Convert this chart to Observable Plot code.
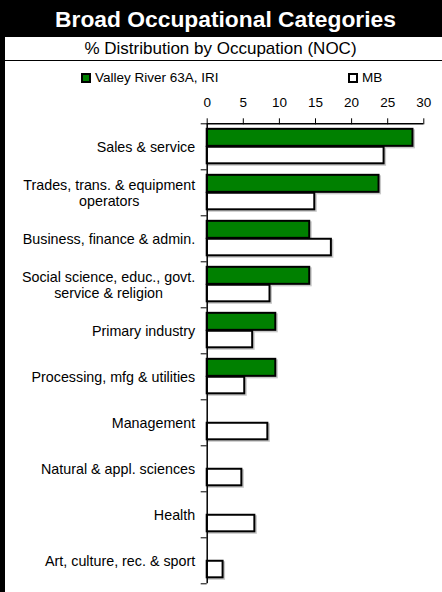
<!DOCTYPE html>
<html>
<head>
<meta charset="utf-8">
<script src="https://cdn.jsdelivr.net/npm/d3@7"></script>
<script src="https://cdn.jsdelivr.net/npm/@observablehq/plot@0.6"></script>
<style>
  html, body { margin: 0; padding: 0; background: #fff; }
  #chart { position: relative; width: 442px; height: 592px; box-sizing: border-box; border-left: 5px solid #000; font-family: "Liberation Sans", Arial, sans-serif; color: #000; overflow: hidden; }
  .title { height: 37px; background: #000; color: #fff; font-weight: bold; font-size: 22.8px; line-height: 38px; text-align: center; padding-left: 4px; white-space: nowrap; }
  .subtitle { height: 23px; line-height: 23px; font-size: 17px; text-align: center; border-bottom: 1px solid #000; padding-right: 6px; white-space: nowrap; }
  .legend { position: relative; height: 29px; font-size: 13.5px; }
  .legend .item { position: absolute; top: 9px; display: flex; align-items: center; white-space: nowrap; }
  .legend .sw { width: 6px; height: 6px; border: 2px solid #000; margin-right: 4px; }
  svg { display: block; }
</style>
</head>
<body>
<div id="chart">
  <div class="title">Broad Occupational Categories</div>
  <div class="subtitle">% Distribution by Occupation (NOC)</div>
  <div class="legend" id="legend"></div>
</div>
<script>
const categories = [
  "Sales & service",
  "Trades, trans. & equipment\noperators",
  "Business, finance & admin.",
  "Social science, educ., govt.\nservice & religion",
  "Primary industry",
  "Processing, mfg & utilities",
  "Management",
  "Natural & appl. sciences",
  "Health",
  "Art, culture, rec. & sport"
];
const seriesNames = ["Valley River 63A, IRI", "MB"];
const valleyRiver = [28.5, 23.8, 14.2, 14.2, 9.5, 9.5, 0, 0, 0, 0];
const mb = [24.5, 14.9, 17.2, 8.7, 6.3, 5.2, 8.4, 4.8, 6.6, 2.2];
const xTicks = [0, 5, 10, 15, 20, 25, 30];
const colors = ["#008000", "#ffffff"];

const rows = categories.flatMap((c, i) => [
  {cat: c, i, series: seriesNames[0], s: 0, value: valleyRiver[i]},
  {cat: c, i, series: seriesNames[1], s: 1, value: mb[i]}
]).filter(d => d.value > 0);

const bandTicks = d3.range(categories.length + 1);
const slot = [[0.12, 0.49], [0.51, 0.87]];

// legend
const legend = document.getElementById("legend");
const legendLeft = [76, 343];
seriesNames.forEach((name, k) => {
  const item = document.createElement("div");
  item.className = "item";
  item.style.left = legendLeft[k] + "px";
  const sw = document.createElement("span");
  sw.className = "sw";
  sw.style.background = colors[k];
  const label = document.createElement("span");
  label.textContent = name;
  item.append(sw, label);
  legend.append(item);
});

const barOpts = {
  x1: () => 0,
  x2: "value",
  y1: d => d.i + slot[d.s][0],
  y2: d => d.i + slot[d.s][1]
};

const plot = Plot.plot({
  width: 437,
  height: 502,
  marginLeft: 201.7,
  marginRight: 18.7,
  marginTop: 33.3,
  marginBottom: 8.7,
  style: {fontFamily: "'Liberation Sans', Arial, sans-serif", fontSize: "13px", color: "#000", background: "#fff"},
  x: {domain: [0, 30], label: null},
  y: {domain: [0, categories.length], reverse: true, axis: null, label: null},
  color: {domain: seriesNames, range: colors},
  marks: [
    Plot.rect(rows, {...barOpts, fill: "none", stroke: "#c8c8c8", strokeWidth: 2, dx: 1.5, dy: 1.5}),
    Plot.rect(rows, {...barOpts, fill: "series", stroke: "#000", strokeWidth: 2}),
    Plot.axisX(xTicks, {anchor: "top", tickSize: 6, tickPadding: 11, stroke: "#000", fontSize: 13.5, label: null}),
    Plot.axisY(bandTicks, {anchor: "left", tickSize: 6, tickFormat: () => "", stroke: "#000", label: null}),
    Plot.ruleY([0], {x1: d3.min(xTicks), x2: d3.max(xTicks), stroke: "#000", strokeWidth: 1.5}),
    Plot.ruleX([0], {y1: 0, y2: categories.length, stroke: "#000", strokeWidth: 1.5}),
    Plot.text(categories, {
      x: 0,
      y: (d, i) => i + 0.5,
      text: d => d,
      textAnchor: "end",
      lineAnchor: "middle",
      lineHeight: 1.15,
      dx: -12,
      fontSize: 14.3,
      fill: "#000"
    })
  ]
});

document.getElementById("chart").append(plot);

// centre the lines of the two-line labels on each other (block stays right-aligned)
plot.querySelectorAll('g[aria-label="text"] text').forEach(t => {
  const spans = t.querySelectorAll("tspan");
  if (spans.length < 2) return;
  const widths = Array.from(spans, s => s.getComputedTextLength());
  const maxW = d3.max(widths);
  spans.forEach((s, k) => s.setAttribute("x", -(maxW - widths[k]) / 2));
});
</script>
</body>
</html>
